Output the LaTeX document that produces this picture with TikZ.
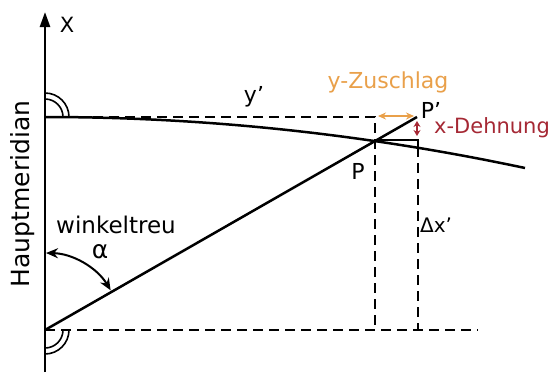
\documentclass[tikz,border=0pt]{standalone}
\usepackage{fontspec}
\setmainfont{DejaVu Sans}
\usetikzlibrary{arrows.meta}
\definecolor{zorange}{RGB}{233,160,74}
\definecolor{zred}{RGB}{165,40,52}
\begin{document}
\begin{tikzpicture}[x=1pt,y=-1pt,
  line/.style={line width=2.5pt,black},
  dline/.style={line width=2.8pt,black,dash pattern=on 10pt off 6pt},
  lbl/.style={font=\fontsize{22}{22}\selectfont,inner sep=0pt},
  thinarc/.style={line width=1.6pt,black}]
\useasboundingbox (0,0) rectangle (553,372);
\coordinate (O) at (45,330);
\coordinate (A) at (45,117);
\coordinate (P) at (375,140);
\coordinate (Pp) at (417,117);
\coordinate (C) at (375,117);
\coordinate (Q) at (418,140);
\coordinate (Qc) at (418,147);
\coordinate (E) at (525,168);
\coordinate (Cb) at (375,330);
\coordinate (Qb) at (418,330);
\coordinate (Bend) at (478,330);
\coordinate (Ab) at (45,372);
\coordinate (At) at (45,12);
% axis
\draw[line,-{Triangle[length=15pt,width=10pt]}] (Ab) -- (At);
% dashed lines
\draw[dline] (A) -- (C) -- (Cb);
\draw[dline] (O) -- (Bend);
\draw[dline] (Qc) -- (Qb);
% curve
\draw[line] (A) .. controls (205,117) and (365,134) .. (E);
% slanted line
\draw[line] (O) -- (Pp);
% small right angle at P
\draw[line width=2pt] (P) -- (Q) -- (Qc);
% right angle arcs
\draw[thinarc] (45,99) arc[start angle=-90,end angle=0,radius=18];
\draw[thinarc] (45,93) arc[start angle=-90,end angle=0,radius=24];
\draw[thinarc] (63,330) arc[start angle=0,end angle=90,radius=18];
\draw[thinarc] (69,330) arc[start angle=0,end angle=90,radius=24];
% angle arc
\draw[line width=2pt,{Stealth[length=12pt,width=10pt]}-{Stealth[length=12pt,width=10pt]}] (46,253) arc[start angle=-89,end angle=-31,radius=77];
% orange and red arrows
\draw[zorange,line width=2pt,{Stealth[length=8pt,width=7pt]}-{Stealth[length=8pt,width=7pt]}] (378,116) -- (414,116);
\draw[zred,line width=2pt,{Stealth[length=6pt,width=7pt]}-{Stealth[length=6pt,width=7pt]}] (417,121) -- (417,136);
% labels
\node[lbl,font=\fontsize{21}{21}\selectfont] (xl) at (67,25) {X};
\node[lbl] (yl) at (254,97) {y'};
\node[lbl,text=zorange] (yz) at (388,82) {y-Zuschlag};
\node[lbl,text=zred,anchor=west,font=\fontsize{21}{21}\selectfont] (xd) at (434,128) {x-Dehnung};
\node[lbl] (pl) at (358,171) {P};
\node[lbl] (ppl) at (431,110) {P'};
\node[lbl,font=\fontsize{20}{20}\selectfont] (dx) at (436,225) {Δx'};
\node[lbl,font=\fontsize{23}{23}\selectfont] (wt) at (116,225) {winkeltreu};
\node[lbl,font=\fontsize{25}{25}\selectfont] (al) at (100,252) {α};
\node[lbl,rotate=90,font=\fontsize{25}{25}\selectfont] (hm) at (23,194) {Hauptmeridian};
\end{tikzpicture}
\end{document}
